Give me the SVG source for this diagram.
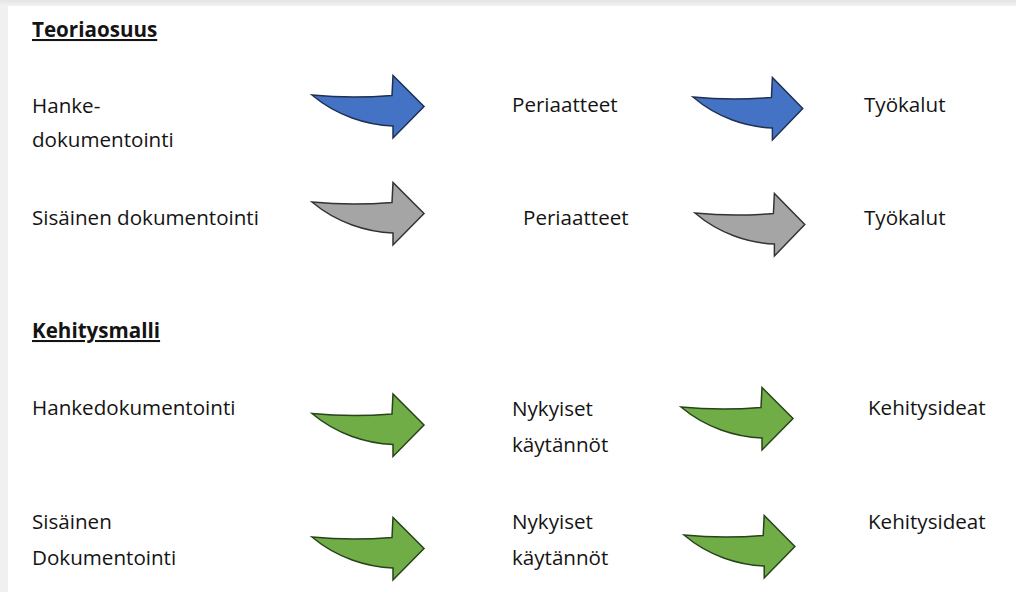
<svg xmlns="http://www.w3.org/2000/svg" xmlns:xlink="http://www.w3.org/1999/xlink" width="1016" height="592" viewBox="0 0 1016 592">
  <style>
    .t { font-family: "Open Sans", "Liberation Sans", sans-serif; font-size: 20.6px; fill: #141414; }
    .h { font-weight: bold; text-decoration: underline; }
    .blue { fill: #4472C4; stroke: #1F3050; }
    .gray { fill: #A5A5A5; stroke: #333333; }
    .green { fill: #70AD47; stroke: #26431A; }
  </style>
  <defs>
    <linearGradient id="topShade" x1="0" y1="0" x2="0" y2="1">
      <stop offset="0" stop-color="#e4e4e4"/>
      <stop offset="1" stop-color="#f2f2f2"/>
    </linearGradient>
    <path id="arrow" stroke-width="1.5" stroke-linejoin="miter" d="M0,0 C25,2.5 55,2.5 80,0.5 L81,-19.5 L112,11.5 L81,43 L81,31 C55,30 25,21 0,0 Z"/>
  </defs>

  <rect x="0" y="0" width="1016" height="592" fill="#f0f0f0"/>
  <rect x="0" y="0" width="1016" height="6" fill="url(#topShade)"/>
  <rect x="8" y="6" width="1008" height="586" fill="#ffffff"/>

  <g id="heading-teoriaosuus"><text class="t h" x="32" y="37">Teoriaosuus</text></g>
  <g id="hanke-dokumentointi"><text class="t" x="32" y="113">Hanke-</text><text class="t" x="32" y="147">dokumentointi</text></g>
  <g id="periaatteet-1"><text class="t" x="512" y="112">Periaatteet</text></g>
  <g id="tyokalut-1"><text class="t" x="864" y="112">Työkalut</text></g>
  <g id="sisainen-dokumentointi"><text class="t" x="32" y="224.5">Sisäinen dokumentointi</text></g>
  <g id="periaatteet-2"><text class="t" x="523" y="225">Periaatteet</text></g>
  <g id="tyokalut-2"><text class="t" x="864" y="225">Työkalut</text></g>

  <g id="heading-kehitysmalli"><text class="t h" x="32" y="338">Kehitysmalli</text></g>
  <g id="hankedokumentointi"><text class="t" x="32" y="415">Hankedokumentointi</text></g>
  <g id="nykyiset-1"><text class="t" x="512" y="415.5">Nykyiset</text><text class="t" x="512" y="451.5">käytännöt</text></g>
  <g id="kehitysideat-1"><text class="t" x="868" y="415">Kehitysideat</text></g>
  <g id="sisainen-dokumentointi-2"><text class="t" x="32" y="528.5">Sisäinen</text><text class="t" x="32" y="565">Dokumentointi</text></g>
  <g id="nykyiset-2"><text class="t" x="512" y="528.5">Nykyiset</text><text class="t" x="512" y="564.5">käytännöt</text></g>
  <g id="kehitysideat-2"><text class="t" x="868" y="528.5">Kehitysideat</text></g>

  <g id="connectors">
    <use xlink:href="#arrow" href="#arrow" class="blue" transform="translate(312,95)"/>
    <use xlink:href="#arrow" href="#arrow" class="blue" transform="translate(693,97) scale(0.98,1)"/>
    <use xlink:href="#arrow" href="#arrow" class="gray" transform="translate(312,202)"/>
    <use xlink:href="#arrow" href="#arrow" class="gray" transform="translate(695,213) scale(0.98,1)"/>
    <use xlink:href="#arrow" href="#arrow" class="green" transform="translate(312,413.5)"/>
    <use xlink:href="#arrow" href="#arrow" class="green" transform="translate(681,407)"/>
    <use xlink:href="#arrow" href="#arrow" class="green" transform="translate(312,537)"/>
    <use xlink:href="#arrow" href="#arrow" class="green" transform="translate(684,535) scale(0.99,1)"/>
  </g>
</svg>
